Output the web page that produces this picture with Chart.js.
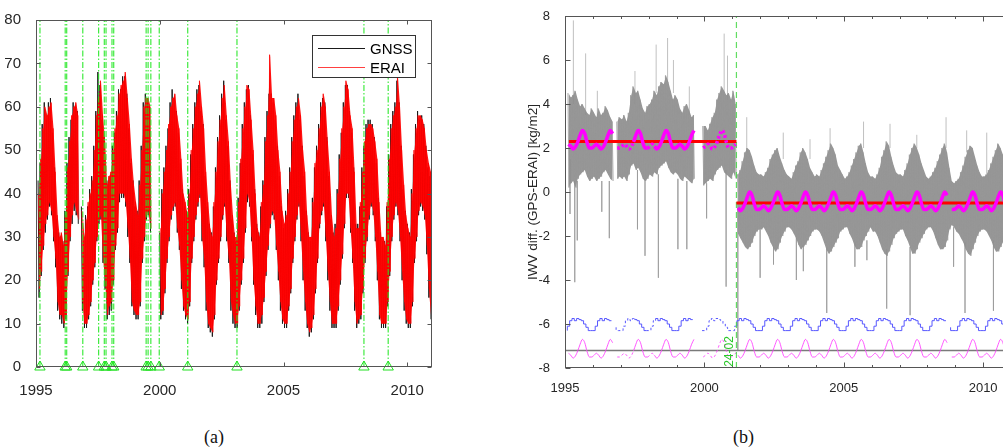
<!DOCTYPE html>
<html>
<head>
<meta charset="utf-8">
<script src="https://cdn.jsdelivr.net/npm/chart.js@4.4.1/dist/chart.umd.min.js"></script>
<style>
  html, body { margin: 0; padding: 0; background: #fff; overflow: hidden; width: 1003px; height: 448px; }
  #wa { position: absolute; left: 0; top: 0; width: 445px; height: 400px; }
  #wb { position: absolute; left: 520px; top: 0; width: 491px; height: 400px; }
  .cap { position: absolute; top: 427px; font-family: "Liberation Serif", "DejaVu Serif", serif; font-size: 18px; color: #111; }
</style>
</head>
<body>
<div id="wa"><canvas id="ca"></canvas></div>
<div id="wb"><canvas id="cb"></canvas></div>
<div class="cap" style="left:204px">(a)</div>
<div class="cap" style="left:733px">(b)</div>
<script>
/* ---------- data (monthly, one row per year 1995..2010) ---------- */
const START = 1995;
const X_TICKS = [1995, 2000, 2005, 2010];
const A_Y_TICKS = [0, 10, 20, 30, 40, 50, 60, 70, 80];
const B_Y_TICKS = [-8, -6, -4, -2, 0, 2, 4, 6, 8];
const LEGEND_ORDER = ['GNSS', 'ERAI'];

// panel (a): equipment / metadata events
const EVENTS = [1995.16, 1996.18, 1996.24, 1996.89, 1997.53, 1997.76, 1997.83, 1998.07, 1998.14,
  1999.45, 1999.53, 1999.64, 1999.98, 2001.13, 2003.12, 2008.25, 2009.23];

// panel (a): monthly upper / lower envelope of daily IWV [kg/m2]
const ERAI_HI = [
  [null, 40, 48, 55, 60, 58, 60, 61, 55, 45, 35, 30],
  [31, 28, 35, 46, 52, 58, 60, 61, 58, null, 36, 30],
  [34, 38, 40, 43, 50, 58, 62, 66, 58, 52, 42, 44],
  [45, 50, 55, 58, 63, 65, 66, 68, 62, 56, 48, 42],
  [38, 35, 42, 50, 60, 62, 62, 60, null, null, null, null],
  [32, 40, 45, 50, 56, 60, 62, 63, 58, 55, 48, 40],
  [38, 35, 40, 50, 55, 60, 63, 66, 60, 55, 45, 38],
  [32, 30, 38, 45, 52, 57, 62, 65, 58, 52, 42, 35],
  [30, 30, 38, 48, 55, 60, 65, 64, 57, 50, 40, 32],
  [30, 38, 42, 52, 58, 72, 62, 62, 58, 50, 45, 36],
  [33, 35, 40, 45, 52, 57, 60, 62, 58, 50, 45, 35],
  [30, 30, 38, 47, 50, 55, 60, 63, 60, 52, 45, 35],
  [30, 32, 40, 48, 55, 60, 66, 64, 58, 55, 45, 32],
  [32, 38, 45, 52, 55, 56, 56, 55, 52, 48, 38, 30],
  [30, 28, 38, 48, 55, 58, 60, 67, 60, 50, 42, 35],
  [32, 30, 40, 50, 55, 58, 58, 57, 55, 50, 47, 45]
];
const ERAI_LO = [
  [null, 18, 22, 28, 33, 35, 38, 36, 30, 25, 15, 12],
  [12, 10, 12, 22, 30, 35, 38, 36, 34, null, 15, 10],
  [10, 12, 15, 20, 24, 30, 34, 35, 25, 20, 12, 14],
  [15, 20, 28, 32, 40, 40, 40, 38, 32, 25, 15, 13],
  [12, 12, 15, 25, 30, 35, 36, 32, null, null, null, null],
  [12, 13, 18, 25, 30, 35, 37, 38, 32, 28, 20, 14],
  [12, 11, 15, 25, 30, 35, 38, 40, 30, 25, 15, 10],
  [9, 8, 12, 20, 25, 30, 35, 38, 30, 25, 15, 12],
  [10, 10, 14, 20, 25, 32, 40, 38, 30, 20, 14, 10],
  [10, 12, 16, 22, 28, 33, 36, 35, 28, 22, 15, 11],
  [10, 10, 14, 18, 25, 30, 35, 38, 30, 22, 15, 10],
  [8, 9, 12, 18, 25, 33, 36, 38, 30, 22, 15, 10],
  [10, 10, 14, 20, 26, 33, 40, 40, 32, 25, 15, 10],
  [11, 12, 18, 25, 30, 35, 38, 36, 30, 22, 12, 10],
  [10, 10, 15, 22, 30, 35, 38, 36, 30, 22, 15, 11],
  [10, 10, 15, 25, 30, 36, 38, 37, 35, 28, 18, 12]
];
const GNSS_HI = [
  [null, 43, 47, 56, 61, 57, 61, 62, 54, 46, 34, 31],
  [30, 29, 36, 47, 53, 57, 61, 60, 59, null, 37, 29],
  [35, 37, 41, 44, 51, 59, 68, 65, 57, 53, 43, 43],
  [44, 51, 54, 59, 64, 64, 67, 67, 63, 55, 47, 43],
  [37, 36, 43, 51, 61, 63, 62, 60, null, null, null, null],
  [31, 41, 46, 51, 55, 61, 64, 62, 59, 54, 47, 41],
  [37, 36, 41, 49, 56, 61, 64, 65, 59, 56, 44, 37],
  [33, 31, 37, 46, 53, 58, 63, 66, 57, 51, 43, 34],
  [31, 29, 39, 47, 56, 61, 64, 65, 58, 49, 41, 33],
  [31, 37, 43, 53, 59, 63, 63, 61, 57, 51, 44, 37],
  [32, 36, 41, 46, 53, 58, 61, 63, 57, 51, 44, 36],
  [31, 29, 39, 46, 51, 56, 61, 62, 61, 53, 44, 34],
  [31, 33, 41, 49, 54, 61, 65, 65, 59, 54, 46, 33],
  [33, 37, 46, 51, 56, 57, 57, 56, 53, 47, 39, 31],
  [29, 29, 37, 49, 56, 59, 61, 66, 61, 51, 41, 36],
  [33, 31, 41, 49, 56, 59, 57, 58, 56, 51, 46, 44]
];
const GNSS_LO = [
  [null, 16, 21, 27, 31, 34, 37, 35, 29, 23, 13, 11],
  [10, 9, 11, 21, 29, 33, 36, 35, 33, null, 13, 9],
  [9, 11, 14, 19, 23, 29, 33, 34, 24, 18, 11, 12],
  [13, 19, 27, 31, 38, 39, 39, 37, 30, 24, 14, 12],
  [11, 11, 14, 24, 29, 34, 35, 31, null, null, null, null],
  [11, 12, 17, 24, 29, 34, 36, 37, 31, 27, 18, 13],
  [11, 10, 14, 24, 29, 34, 37, 39, 29, 23, 13, 9],
  [8, 7, 11, 19, 24, 29, 34, 37, 29, 24, 13, 10],
  [9, 9, 13, 19, 24, 31, 38, 37, 29, 19, 12, 9],
  [9, 10, 15, 21, 27, 32, 35, 34, 27, 20, 13, 10],
  [9, 9, 13, 17, 24, 29, 34, 37, 29, 20, 13, 9],
  [7, 8, 11, 17, 24, 32, 35, 37, 29, 20, 13, 9],
  [9, 9, 13, 19, 25, 32, 39, 39, 31, 24, 13, 9],
  [10, 11, 17, 24, 29, 34, 37, 35, 29, 20, 11, 9],
  [9, 9, 14, 21, 29, 34, 37, 35, 29, 20, 13, 10],
  [9, 9, 14, 24, 29, 35, 37, 36, 34, 26, 16, 11]
];

// panel (b): IWV difference GPS-ERAI, monthly upper / lower envelope of the daily series
const DIFF_HI = [
  [null, 4.5, 4.3, 4.4, 4.6, 4.2, 3.9, 4.0, 3.8, 3.6, 3.5, 3.8],
  [3.6, 3.4, 3.8, 3.5, 3.6, 3.9, 3.7, 3.4, 3.2, null, 3.2, 3.4],
  [3.3, 3.5, 3.2, 3.6, 4.4, 4.8, 4.5, 4.6, 4.2, 3.8, 3.6, 3.9],
  [4.0, 4.2, 4.6, 4.4, 4.8, 5.0, 4.9, 5.3, 5.0, 4.6, 4.2, 4.4],
  [4.2, 3.8, 3.6, 3.9, 4.0, 3.7, 3.4, 3.5, null, null, null, 3.0],
  [3.0, 2.8, 3.1, 3.4, 3.6, 4.2, 4.5, 4.8, 4.6, 4.4, 4.5, 4.2],
  [4.6, 4.0, 0.8, 1.0, 1.4, 1.8, 2.0, 1.9, 1.6, 1.2, 0.9, 0.8],
  [0.8, 0.7, 0.9, 1.1, 1.5, 1.7, 1.9, 2.0, 1.6, 1.3, 1.0, 0.8],
  [0.7, 0.6, 0.9, 1.2, 1.4, 1.8, 2.0, 1.8, 1.5, 1.1, 0.9, 0.7],
  [0.8, 0.7, 1.0, 1.3, 1.6, 1.9, 2.2, 2.0, 1.7, 1.2, 1.0, 0.8],
  [0.6, 0.7, 0.9, 1.2, 1.5, 1.8, 2.1, 2.2, 1.8, 1.3, 0.9, 0.7],
  [0.7, 0.6, 0.8, 1.1, 1.6, 1.9, 2.3, 2.1, 1.6, 1.2, 0.9, 0.8],
  [0.8, 0.7, 1.0, 1.3, 1.7, 2.0, 2.2, 2.0, 1.7, 1.3, 1.0, 0.7],
  [0.6, 0.7, 0.9, 1.1, 1.4, 1.7, 2.0, 2.2, 1.8, 1.1, 0.5, 0.4],
  [0.5, 0.6, 0.9, 1.2, 1.6, 1.9, 2.1, 2.0, 1.6, 1.2, 0.9, 0.7],
  [0.7, 0.8, 1.0, 1.3, 1.6, 1.9, 2.2, 2.0, 1.7, 1.3, 1.0, 0.8]
];
const DIFF_LO = [
  [null, 0.2, 0.4, 0.5, 0.2, 0.6, 0.8, 0.9, 1.0, 0.7, 0.5, 0.6],
  [0.7, 0.5, 0.6, 0.7, 0.9, 1.0, 0.8, 0.6, 0.5, null, 0.6, 0.7],
  [0.6, 0.7, 0.5, 0.8, 1.2, 1.3, 1.0, 1.1, 0.9, 0.6, 0.5, 0.6],
  [0.8, 0.7, 0.9, 0.8, 1.1, 1.2, 1.3, 1.4, 1.1, 0.9, 0.8, 0.9],
  [0.8, 0.6, 0.5, 0.7, 0.6, 0.5, 0.4, 0.6, null, null, null, 0.3],
  [0.4, 0.5, 0.6, 0.5, 0.8, 1.0, 1.1, 1.2, 0.9, 0.8, 0.7, 0.6],
  [0.9, 0.6, -1.9, -2.1, -2.3, -2.5, -2.6, -2.5, -2.3, -2.0, -1.8, -1.7],
  [-1.7, -1.6, -1.8, -2.0, -2.3, -2.5, -2.7, -2.6, -2.3, -2.0, -1.8, -1.6],
  [-1.6, -1.7, -1.9, -2.1, -2.4, -2.6, -2.5, -2.4, -2.2, -2.0, -1.8, -1.7],
  [-1.7, -1.8, -2.0, -2.3, -2.6, -2.8, -2.7, -2.5, -2.3, -2.1, -1.8, -1.7],
  [-1.6, -1.6, -1.9, -2.1, -2.4, -2.6, -2.6, -2.5, -2.2, -2.0, -1.8, -1.6],
  [-1.8, -1.8, -2.0, -2.3, -2.6, -2.8, -2.9, -2.7, -2.4, -2.1, -1.9, -1.8],
  [-1.7, -1.7, -2.0, -2.2, -2.5, -2.8, -2.8, -2.6, -2.3, -2.1, -1.9, -1.7],
  [-1.6, -1.6, -1.8, -2.1, -2.4, -2.6, -2.6, -2.5, -2.2, -1.7, -1.5, -1.6],
  [-1.8, -1.9, -2.1, -2.3, -2.6, -2.8, -2.9, -2.6, -2.3, -2.0, -1.8, -1.7],
  [-1.7, -1.8, -2.0, -2.2, -2.5, -2.7, -2.7, -2.5, -2.3, -2.1, -1.9, -1.8]
];
// isolated outliers: [year, from, to]
const DIFF_SPIKES = [
  [1995.18, 1.5, -1.0], [1995.30, 4.0, 7.8], [1995.35, 0.5, -4.1], [1995.44, 0.5, -2.2],
  [1995.74, 3.5, 6.3], [1996.16, 3.5, 4.6], [1996.32, 0.5, -0.9], [1996.59, 0.5, -2.1],
  [1997.51, 4.0, 5.5], [1997.60, 1.0, -1.7], [1997.87, 0.6, -2.9], [1998.27, 4.5, 6.7],
  [1998.35, 0.8, -3.9], [1998.68, 5.0, 7.0], [1998.89, 4.5, 6.0], [1999.05, 0.6, -2.6],
  [1999.37, 0.5, -2.6], [1999.46, 3.5, 4.8], [2000.08, 0.4, -1.2], [2000.71, 4.5, 7.2],
  [2000.78, 1.0, -4.3], [2000.83, 4.2, 6.2], [2001.20, -0.5, -7.2], [2001.52, 1.8, 3.4],
  [2002.00, -1.7, -3.9], [2002.48, -2.4, -3.3], [2002.83, 1.5, 2.7], [2003.30, -2.0, -4.0],
  [2003.55, -2.4, -3.6], [2003.79, 1.5, 2.4], [2004.39, -2.5, -5.5], [2004.51, 2.0, 2.9],
  [2005.40, -2.3, -3.4], [2005.71, 2.0, 3.2], [2005.83, -2.2, -3.1], [2006.54, -2.6, -5.3],
  [2006.66, 2.0, 3.1], [2007.38, -2.5, -5.6], [2007.62, 2.0, 2.6], [2008.67, 2.0, 3.4],
  [2008.94, -1.6, -3.4], [2009.35, -2.3, -5.5], [2009.41, 1.8, 2.8], [2010.13, 0.8, 2.7],
  [2010.37, -2.2, -5.4]
];

// break detected 24-02-2001, mean of each segment
const BREAK = 2001.15;
const BREAK_LABEL = '24-02';
const MEAN_SEGMENTS = [[1995.14, 2001.15, 2.3], [2001.15, 2011, -0.5]];
const BASELINE = -7.2;

// fitted mean + seasonal signal (thick magenta)
const FIT_TOP = [
  [null, 2.17, 2.08, 1.95, 2.05, 2.28, 2.58, 2.8, 2.65, 2.25, 2.0, 2.0],
  [2.08, 2.17, 2.08, 1.95, 2.05, 2.28, 2.58, 2.8, 2.65, null, 2.0, 2.0],
  [2.08, 2.17, 2.08, 1.95, 2.05, 2.28, 2.58, 2.8, 2.65, 2.25, 2.0, 2.0],
  [2.08, 2.17, 2.08, 1.95, 2.05, 2.28, 2.58, 2.8, 2.65, 2.25, 2.0, 2.0],
  [2.08, 2.17, 2.08, 1.95, 2.05, 2.28, 2.58, 2.8, null, null, null, 2.0],
  [2.08, 2.17, 2.08, 1.95, 2.05, 2.28, 2.58, 2.8, 2.65, 2.25, 2.0, 2.0],
  [2.08, 2.17, -0.72, -0.85, -0.75, -0.52, -0.22, 0.0, -0.15, -0.55, -0.8, -0.8],
  [-0.72, -0.63, -0.72, -0.85, -0.75, -0.52, -0.22, 0.0, -0.15, -0.55, -0.8, -0.8],
  [-0.72, -0.63, -0.72, -0.85, -0.75, -0.52, -0.22, 0.0, -0.15, -0.55, -0.8, -0.8],
  [-0.72, -0.63, -0.72, -0.85, -0.75, -0.52, -0.22, 0.0, -0.15, -0.55, -0.8, -0.8],
  [-0.72, -0.63, -0.72, -0.85, -0.75, -0.52, -0.22, 0.0, -0.15, -0.55, -0.8, -0.8],
  [-0.72, -0.63, -0.72, -0.85, -0.75, -0.52, -0.22, 0.0, -0.15, -0.55, -0.8, -0.8],
  [-0.72, -0.63, -0.72, -0.85, -0.75, -0.52, -0.22, 0.0, -0.15, -0.55, -0.8, -0.8],
  [-0.72, -0.63, -0.72, -0.85, -0.75, -0.52, -0.22, 0.0, -0.15, null, -0.8, -0.8],
  [-0.72, -0.63, -0.72, -0.85, -0.75, -0.52, -0.22, 0.0, -0.15, -0.55, -0.8, -0.8],
  [-0.72, -0.63, -0.72, -0.85, -0.75, -0.52, -0.22, 0.0, -0.15, -0.55, -0.8, -0.8]
];
// seasonal signal shifted to the bottom (thin magenta)
const SEASON_LOW = [
  [null, -7.33, -7.42, -7.55, -7.45, -7.22, -6.92, -6.7, -6.85, -7.25, -7.5, -7.5],
  [-7.42, -7.33, -7.42, -7.55, -7.45, -7.22, -6.92, -6.7, -6.85, null, -7.5, -7.5],
  [-7.42, -7.33, -7.42, -7.55, -7.45, -7.22, -6.92, -6.7, -6.85, -7.25, -7.5, -7.5],
  [-7.42, -7.33, -7.42, -7.55, -7.45, -7.22, -6.92, -6.7, -6.85, -7.25, -7.5, -7.5],
  [-7.42, -7.33, -7.42, -7.55, -7.45, -7.22, -6.92, -6.7, null, null, null, -7.5],
  [-7.42, -7.33, -7.42, -7.55, -7.45, -7.22, -6.92, -6.7, -6.85, -7.25, -7.5, -7.5],
  [-7.42, -7.33, -7.42, -7.55, -7.45, -7.22, -6.92, -6.7, -6.85, -7.25, -7.5, -7.5],
  [-7.42, -7.33, -7.42, -7.55, -7.45, -7.22, -6.92, -6.7, -6.85, -7.25, -7.5, -7.5],
  [-7.42, -7.33, -7.42, -7.55, -7.45, -7.22, -6.92, -6.7, -6.85, -7.25, -7.5, -7.5],
  [-7.42, -7.33, -7.42, -7.55, -7.45, -7.22, -6.92, -6.7, -6.85, -7.25, -7.5, -7.5],
  [-7.42, -7.33, -7.42, -7.55, -7.45, -7.22, -6.92, -6.7, -6.85, -7.25, -7.5, -7.5],
  [-7.42, -7.33, -7.42, -7.55, -7.45, -7.22, -6.92, -6.7, -6.85, -7.25, -7.5, -7.5],
  [-7.42, -7.33, -7.42, -7.55, -7.45, -7.22, -6.92, -6.7, -6.85, -7.25, -7.5, -7.5],
  [-7.42, -7.33, -7.42, -7.55, -7.45, -7.22, -6.92, -6.7, -6.85, null, -7.5, -7.5],
  [-7.42, -7.33, -7.42, -7.55, -7.45, -7.22, -6.92, -6.7, -6.85, -7.25, -7.5, -7.5],
  [-7.42, -7.33, -7.42, -7.55, -7.45, -7.22, -6.92, -6.7, -6.85, -7.25, -7.5, -7.5]
];
// monthly climatology shifted (blue steps)
const CLIM_LOW = [
  [null, -6.3, -6.1, -5.85, -5.75, -5.85, -5.75, -5.8, -5.85, -6.0, -6.15, -6.3],
  [-6.3, -6.3, -6.1, -5.85, -5.75, -5.85, -5.75, -5.8, -5.85, null, -6.15, -6.3],
  [-6.3, -6.3, -6.1, -5.85, -5.75, -5.85, -5.75, -5.8, -5.85, -6.0, -6.15, -6.3],
  [-6.3, -6.3, -6.1, -5.85, -5.75, -5.85, -5.75, -5.8, -5.85, -6.0, -6.15, -6.3],
  [-6.3, -6.3, -6.1, -5.85, -5.75, -5.85, -5.75, -5.8, null, null, null, -6.3],
  [-6.3, -6.3, -6.1, -5.85, -5.75, -5.85, -5.75, -5.8, -5.85, -6.0, -6.15, -6.3],
  [-6.3, -6.3, -6.1, -5.85, -5.75, -5.85, -5.75, -5.8, -5.85, -6.0, -6.15, -6.3],
  [-6.3, -6.3, -6.1, -5.85, -5.75, -5.85, -5.75, -5.8, -5.85, -6.0, -6.15, -6.3],
  [-6.3, -6.3, -6.1, -5.85, -5.75, -5.85, -5.75, -5.8, -5.85, -6.0, -6.15, -6.3],
  [-6.3, -6.3, -6.1, -5.85, -5.75, -5.85, -5.75, -5.8, -5.85, -6.0, -6.15, -6.3],
  [-6.3, -6.3, -6.1, -5.85, -5.75, -5.85, -5.75, -5.8, -5.85, -6.0, -6.15, -6.3],
  [-6.3, -6.3, -6.1, -5.85, -5.75, -5.85, -5.75, -5.8, -5.85, -6.0, -6.15, -6.3],
  [-6.3, -6.3, -6.1, -5.85, -5.75, -5.85, -5.75, -5.8, -5.85, -6.0, -6.15, -6.3],
  [-6.3, -6.3, -6.1, -5.85, -5.75, -5.85, -5.75, -5.8, -5.85, null, -6.15, -6.3],
  [-6.3, -6.3, -6.1, -5.85, -5.75, -5.85, -5.75, -5.8, -5.85, -6.0, -6.15, -6.3],
  [-6.3, -6.3, -6.1, -5.85, -5.75, -5.85, -5.75, -5.8, -5.85, -6.0, -6.15, -6.3]
];
// stretches where the daily series is sparse (drawn dotted)
const SPARSE = [[1996.75, 1997.45], [1997.9, 1998.2], [1999.9, 2001.15]];

/* ---------- helpers ---------- */
const FONT = '"Liberation Sans", Arial, sans-serif';
const INK = '#262626';

// one up/down stroke per month between the month's high and low values
function zigzag(hi, lo, o1, o2) {
  const pts = [];
  hi.forEach((h, i) => {
    const x0 = START + i / 12;
    if (h == null || lo[i] == null) { pts.push({ x: x0 + 0.5 / 12, y: null }); return; }
    pts.push({ x: x0 + o1 / 12, y: h }, { x: x0 + o2 / 12, y: lo[i] });
  });
  return pts;
}

function monthly(vals, offset, breakAt) {
  const pts = [];
  vals.forEach((v, i) => {
    const x = START + (i + offset) / 12;
    if (breakAt != null && pts.length && pts[pts.length - 1].x < breakAt && x >= breakAt) pts.push({ x: breakAt, y: null });
    pts.push({ x, y: v });
  });
  return pts;
}

function verticals(list) {
  const pts = [];
  list.forEach(([x, a, b]) => pts.push({ x, y: a }, { x, y: b }, { x, y: null }));
  return pts;
}

const sparseDash = c => SPARSE.some(([a, b]) => c.p0.parsed.x >= a && c.p0.parsed.x < b) ? [2.5, 2.5] : undefined;

const fixedTicks = list => s => { s.ticks = list.map(v => ({ value: v })); };

// box around the plot with inward MATLAB-style ticks
const frame = {
  id: 'frame',
  afterDatasetsDraw(chart, args, o) {
    const { ctx, chartArea: a, scales: { x, y } } = chart;
    const L = Math.round(a.left) + 0.5, R = Math.round(a.right) - 0.5;
    const T = Math.round(a.top) + 0.5, B = Math.round(a.bottom) - 0.5;
    ctx.save();
    ctx.strokeStyle = o.color;
    ctx.lineWidth = 1;
    ctx.beginPath();
    const xt = (v, len) => {
      const px = Math.round(x.getPixelForValue(v)) + 0.5;
      ctx.moveTo(px, B); ctx.lineTo(px, B - len);
      ctx.moveTo(px, T); ctx.lineTo(px, T + len);
    };
    x.ticks.forEach(t => xt(t.value, o.len));
    (o.minorX || []).forEach(v => xt(v, o.minorLen));
    y.ticks.forEach(t => {
      const py = Math.round(y.getPixelForValue(t.value)) + 0.5;
      ctx.moveTo(L, py); ctx.lineTo(L + o.len, py);
      ctx.moveTo(R, py); ctx.lineTo(R - o.len, py);
    });
    ctx.stroke();
    ctx.strokeRect(L, T, R - L, B - T);
    ctx.restore();
  }
};

const legendBox = {
  id: 'legendBox',
  afterDraw(chart) {
    const ctx = chart.ctx;
    ctx.save();
    ctx.fillStyle = '#fff';
    ctx.fillRect(312, 35, 103, 42);
    ctx.strokeStyle = '#333';
    ctx.lineWidth = 1;
    ctx.strokeRect(312.5, 35.5, 103, 42);
    ctx.font = '15px ' + FONT;
    ctx.textBaseline = 'middle';
    LEGEND_ORDER.forEach((name, i) => {
      const ds = chart.data.datasets.find(d => d.label === name);
      const yy = 48.5 + i * 19;
      ctx.strokeStyle = ds.borderColor;
      ctx.beginPath(); ctx.moveTo(318, yy); ctx.lineTo(365, yy); ctx.stroke();
      ctx.fillStyle = '#000';
      ctx.fillText(name, 370, yy + 1);
    });
    ctx.restore();
  }
};

const breakLabel = {
  id: 'breakLabel',
  afterDatasetsDraw(chart) {
    const { ctx, scales: { x, y } } = chart;
    ctx.save();
    ctx.translate(x.getPixelForValue(BREAK) - 6.5, y.getPixelForValue(-7.25));
    ctx.rotate(-Math.PI / 2);
    ctx.font = '12px ' + FONT;
    ctx.fillStyle = '#2bc82b';
    ctx.textAlign = 'center';
    ctx.textBaseline = 'middle';
    ctx.fillText(BREAK_LABEL, 0, 0);
    ctx.restore();
  }
};

Chart.defaults.animation = false;
Chart.defaults.events = [];
Chart.defaults.font.family = FONT;
Chart.defaults.color = INK;

const noLine = { borderWidth: 0, borderColor: 'rgba(0,0,0,0)', pointRadius: 0 };

/* ---------- panel (a) ---------- */
const eventLines = [];
EVENTS.forEach(e => eventLines.push({ x: e, y: 0 }, { x: e, y: 80 }, { x: e, y: null }));

new Chart(document.getElementById('ca'), {
  type: 'line',
  data: {
    datasets: [
      { label: 'events', data: eventLines, borderColor: 'rgba(30,230,30,0.85)', borderWidth: 1.2,
        borderDash: [6, 2, 1.5, 2], pointRadius: 0, order: 0 },
      { label: 'marks', data: EVENTS.map(e => ({ x: e, y: 0 })), showLine: false, pointStyle: 'triangle',
        pointRadius: 6, pointBorderColor: '#22e022', pointBackgroundColor: 'rgba(0,0,0,0)',
        pointBorderWidth: 1, clip: false, order: 0 },
      { label: 'ERAI', data: zigzag(ERAI_HI.flat(), ERAI_LO.flat(), 0.25, 0.75),
        borderColor: 'rgba(255,0,0,0.75)', borderWidth: 1, pointRadius: 0, borderJoinStyle: 'bevel', order: 1 },
      // filled core of the ERAI daily band
      { label: 'ERAI band', data: monthly(ERAI_HI.flat(), 0.5), ...noLine, fill: '+1',
        backgroundColor: 'rgba(255,0,0,0.92)', order: 2 },
      { label: 'ERAI band lo', data: monthly(ERAI_LO.flat(), 0.5), ...noLine, order: 2 },
      { label: 'GNSS', data: zigzag(GNSS_HI.flat(), GNSS_LO.flat(), 0.0, 0.5),
        borderColor: '#1a1a1a', borderWidth: 1, pointRadius: 0, borderJoinStyle: 'bevel', order: 3 }
    ]
  },
  options: {
    responsive: true,
    maintainAspectRatio: false,
    layout: { padding: { top: 20, right: 13, left: 0, bottom: 0 } },
    plugins: { legend: { display: false }, tooltip: { enabled: false }, frame: { color: '#555', len: 4 } },
    scales: {
      x: {
        type: 'linear', min: 1995, max: 2011,
        afterBuildTicks: fixedTicks(X_TICKS),
        afterFit: s => { s.height = 33; },
        grid: { display: false }, border: { display: false },
        ticks: { padding: 7, font: { size: 15 }, color: INK, callback: v => String(v), maxRotation: 0 }
      },
      y: {
        min: 0, max: 80,
        afterBuildTicks: fixedTicks(A_Y_TICKS),
        afterFit: s => { s.width = 36; },
        grid: { display: false }, border: { display: false },
        ticks: { padding: 7, font: { size: 15 }, color: INK, callback: v => String(v) }
      }
    }
  },
  plugins: [frame, legendBox]
});

/* ---------- panel (b) ---------- */
const meanLine = [];
MEAN_SEGMENTS.forEach(([a, b, v]) => meanLine.push({ x: a, y: v }, { x: b, y: v }, { x: b, y: null }));
const minorYears = [];
for (let yr = 1996; yr <= 2011; yr++) if (yr % 5) minorYears.push(yr);

new Chart(document.getElementById('cb'), {
  type: 'line',
  data: {
    datasets: [
      { label: 'fit', data: monthly(FIT_TOP.flat(), 0.5, BREAK), borderColor: '#ff00ff', borderWidth: 3.5,
        pointRadius: 0, cubicInterpolationMode: 'monotone', segment: { borderDash: sparseDash }, order: 0 },
      { label: 'mean', data: meanLine, borderColor: '#ff0000', borderWidth: 3, pointRadius: 0, order: 1 },
      { label: 'break', data: [{ x: BREAK, y: -8 }, { x: BREAK, y: 8 }], borderColor: 'rgba(70,215,70,0.85)',
        borderWidth: 1.2, borderDash: [6, 4], pointRadius: 0, order: 2 },
      { label: 'clim', data: monthly(CLIM_LOW.flat(), 0, null), stepped: 'after', borderColor: '#5858ff',
        borderWidth: 1, pointRadius: 0, segment: { borderDash: sparseDash }, order: 3 },
      { label: 'season', data: monthly(SEASON_LOW.flat(), 0.5, null), borderColor: 'rgba(255,60,255,0.85)',
        borderWidth: 1, pointRadius: 0, cubicInterpolationMode: 'monotone', segment: { borderDash: sparseDash }, order: 3 },
      { label: 'base', data: [{ x: 1995, y: BASELINE }, { x: 2011, y: BASELINE }], borderColor: '#7a7a7a',
        borderWidth: 1.5, pointRadius: 0, order: 4 },
      { label: 'diff', data: zigzag(DIFF_HI.flat(), DIFF_LO.flat(), 0.25, 0.75), borderColor: 'rgba(150,150,150,0.7)',
        borderWidth: 1, pointRadius: 0, borderJoinStyle: 'bevel', order: 5 },
      // filled core of the daily difference band
      { label: 'diff band', data: monthly(DIFF_HI.flat(), 0.5, BREAK), ...noLine, fill: '+1',
        backgroundColor: 'rgba(140,140,140,0.9)', order: 6 },
      { label: 'diff band lo', data: monthly(DIFF_LO.flat(), 0.5, BREAK), ...noLine, order: 6 },
      { label: 'spikes', data: verticals(DIFF_SPIKES), borderColor: 'rgba(150,150,150,0.6)', borderWidth: 1,
        pointRadius: 0, order: 7 }
    ]
  },
  options: {
    responsive: true,
    maintainAspectRatio: false,
    layout: { padding: { top: 16, right: 0, left: 0, bottom: 0 } },
    plugins: { legend: { display: false }, tooltip: { enabled: false },
      frame: { color: '#555', len: 5, minorLen: 2.5, minorX: minorYears } },
    scales: {
      x: {
        type: 'linear', min: 1995, max: 2011,
        afterBuildTicks: fixedTicks(X_TICKS),
        afterFit: s => { s.height = 32; },
        grid: { display: false }, border: { display: false },
        ticks: { padding: 5, font: { size: 13 }, color: INK, callback: v => String(v), maxRotation: 0 }
      },
      y: {
        min: -8, max: 8,
        afterBuildTicks: fixedTicks(B_Y_TICKS),
        afterFit: s => { s.width = 45; },
        grid: { display: false }, border: { display: false },
        title: { display: true, text: 'IWV diff. (GPS-ERAI) [kg/m2]', font: { size: 13.5 }, color: INK, padding: { top: 5, bottom: 0 } },
        ticks: { padding: 7, font: { size: 13 }, color: INK, callback: v => String(v) }
      }
    }
  },
  plugins: [frame, breakLabel]
});
</script>
</body>
</html>
